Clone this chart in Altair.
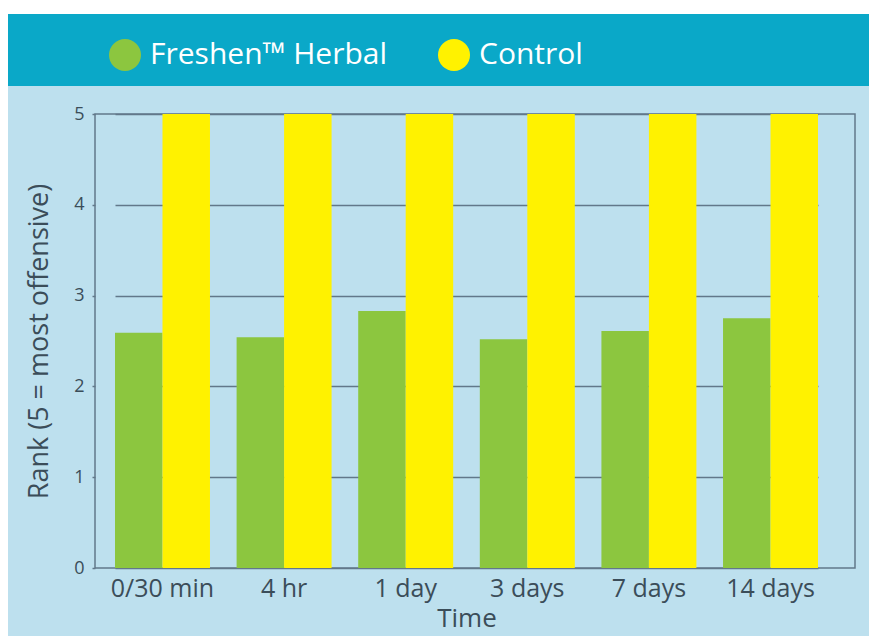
import altair as alt
import pandas as pd

times = ["0/30 min", "4 hr", "1 day", "3 days", "7 days", "14 days"]
herbal = [2.59, 2.54, 2.83, 2.52, 2.61, 2.75]
control = [5, 5, 5, 5, 5, 5]
series = ["Freshen™ Herbal", "Control"]
colors = ["#8cc63f", "#fff200"]

rows = []
for t, h, c in zip(times, herbal, control):
    rows.append({"Time": t, "Series": series[0], "Rank": h})
    rows.append({"Time": t, "Series": series[1], "Rank": c})
df = pd.DataFrame(rows)

FONT = "Open Sans"
TXT = "#3b4d59"
GRID = "#62788a"

one = pd.DataFrame({"a": [0]})
white = alt.Chart(one).mark_rect(color="white").encode(
    x=alt.value(-87), x2=alt.value(780), y=alt.value(-106), y2=alt.value(-100)
)
band = alt.Chart(one).mark_rect(color="#0aa8c8").encode(
    x=alt.value(-87), x2=alt.value(780), y=alt.value(-100), y2=alt.value(-28)
)

bars = alt.Chart(df).mark_bar().encode(
    x=alt.X(
        "Time:N",
        sort=times,
        scale=alt.Scale(range=[20, 723], paddingInner=0.219, paddingOuter=0),
        axis=alt.Axis(
            title="Time", labelAngle=0, labelFontSize=25, labelFont=FONT,
            labelColor=TXT, labelPadding=8, domain=False, ticks=False,
            titleFontSize=26, titleFont=FONT, titleColor=TXT,
            titleFontWeight="normal", titlePadding=4,
        ),
    ),
    xOffset=alt.XOffset("Series:N", sort=series,
                        scale=alt.Scale(paddingInner=0, paddingOuter=0)),
    y=alt.Y(
        "Rank:Q",
        scale=alt.Scale(domain=[0, 5]),
        axis=alt.Axis(
            title="Rank (5 = most offensive)", values=[0, 1, 2, 3, 4, 5],
            labelFontSize=18, labelFont=FONT, labelColor=TXT, labelPadding=8,
            tickSize=3, tickColor=GRID, tickWidth=1.5, domain=False,
            grid=True, gridColor=GRID, gridWidth=1.5,
            titleFontSize=27, titleFont=FONT, titleColor=TXT,
            titleFontWeight="normal", titlePadding=20,
        ),
    ),
    color=alt.Color(
        "Series:N", sort=series,
        scale=alt.Scale(domain=series, range=colors),
        legend=alt.Legend(
            title=None, orient="none", legendX=14, legendY=-75,
            direction="horizontal", symbolType="circle", symbolSize=1024,
            symbolStrokeWidth=0, symbolOpacity=1, labelFontSize=30,
            labelFont=FONT, labelColor="white", labelOffset=9,
            labelLimit=0, columnPadding=50, padding=0,
        ),
    ),
)

chart = (
    alt.layer(white, band, bars)
    .properties(
        width=760, height=454,
        padding={"left": 87, "top": 106, "right": 14, "bottom": 68},
        autosize=alt.AutoSizeParams(type="none"),
        background="#bde0ee",
    )
    .configure_view(stroke=GRID, strokeWidth=1.5)
)

chart.save("out.html", embed_options={"renderer": "svg", "actions": False})
